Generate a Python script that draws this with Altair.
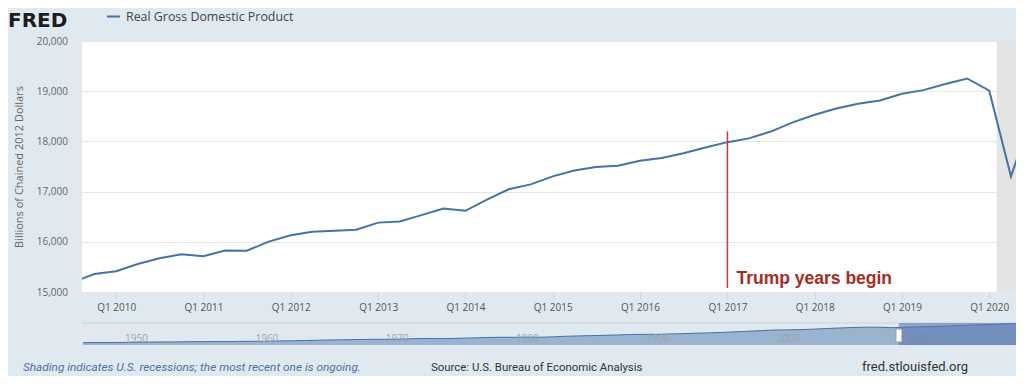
import altair as alt
import pandas as pd

# ---------------- data ----------------
quarters = [
    "2009-07-01", "2009-10-01",
    "2010-01-01", "2010-04-01", "2010-07-01", "2010-10-01",
    "2011-01-01", "2011-04-01", "2011-07-01", "2011-10-01",
    "2012-01-01", "2012-04-01", "2012-07-01", "2012-10-01",
    "2013-01-01", "2013-04-01", "2013-07-01", "2013-10-01",
    "2014-01-01", "2014-04-01", "2014-07-01", "2014-10-01",
    "2015-01-01", "2015-04-01", "2015-07-01", "2015-10-01",
    "2016-01-01", "2016-04-01", "2016-07-01", "2016-10-01",
    "2017-01-01", "2017-04-01", "2017-07-01", "2017-10-01",
    "2018-01-01", "2018-04-01", "2018-07-01", "2018-10-01",
    "2019-01-01", "2019-04-01", "2019-07-01", "2019-10-01",
    "2020-01-01", "2020-04-01", "2020-07-01",
]
gdp = [
    15190, 15357,
    15415, 15558, 15672, 15751,
    15713, 15825, 15821, 16004,
    16130, 16198, 16221, 16240,
    16382, 16403, 16531, 16664,
    16617, 16840, 17047, 17144,
    17303, 17421, 17490, 17514,
    17613, 17669, 17765, 17877,
    17985, 18060, 18196, 18379,
    18530, 18654, 18752, 18814,
    18950, 19021, 19142, 19254,
    19011, 17303, 18584,
]
x_tick_dates = ["2010", "2011", "2012", "2013", "2014", "2015", "2016",
                "2017", "2018", "2019", "2020"]
y_ticks = [15000, 16000, 17000, 18000, 19000, 20000]

recession_start = ["2020-02-01"]
recession_end = ["2020-12-31"]

event_date = ["2017-01-01"]
event_top = [18200]
event_bottom = [15080]
event_text_y = [15160]
event_label = ["Trump years begin"]

nav_years = list(range(1947, 2021))
nav_gdp = [
    2033, 2118, 2106, 2290, 2475, 2577, 2695, 2680, 2871, 2932,
    2993, 2971, 3168, 3261, 3343, 3548, 3701, 3912, 4171, 4452,
    4570, 4795, 4943, 4952, 5118, 5387, 5698, 5668, 5658, 5963,
    6238, 6582, 6785, 6767, 6936, 6810, 7123, 7637, 7960, 8231,
    8512, 8863, 9192, 9366, 9356, 9685, 9951, 10352, 10630, 11031,
    11522, 12038, 12611, 13131, 13262, 13494, 13880, 14406, 14913, 15338,
    15626, 15605, 15209, 15599, 15841, 16197, 16495, 16912, 17432, 17731,
    18144, 18688, 19092, 18384,
]
nav_label_years = [1950, 1960, 1970, 1980, 1990, 2000, 2010]
nav_sel_start = [2009.6]
nav_sel_end = [2022.0]

# ---------------- styling ----------------
BG = "#e1e9f0"
BLUE = "#4572a7"
FONT = "Open Sans"
W, H = 934, 251
TOTAL_H = 368

main_df = pd.DataFrame({"date": quarters, "gdp": gdp})
rec_df = pd.DataFrame({"start": recession_start, "end": recession_end})
ev_df = pd.DataFrame({"date": event_date, "top": event_top, "bottom": event_bottom,
                      "ty": event_text_y, "label": event_label})
nav_df = pd.DataFrame({"year": nav_years, "gdp": nav_gdp})
navlab_df = pd.DataFrame({"year": nav_label_years, "lab": [str(y) for y in nav_label_years]})
sel_df = pd.DataFrame({"s": nav_sel_start, "e": nav_sel_end})

xscale = alt.Scale(type="utc", nice=False, domain=[
    alt.DateTime(year=2009, month=8, date=11, utc=True),
    alt.DateTime(year=2020, month=4, date=22, utc=True)])
yscale = alt.Scale(domain=[15000, 20000], nice=False, zero=False)

xaxis = alt.Axis(
    values=[alt.DateTime(year=int(y), month=1, date=1, utc=True) for y in x_tick_dates],
    labelExpr="'Q1 ' + utcFormat(datum.value, '%Y')",
    title=None, grid=False, domain=False,
    tickColor="#ccd6eb", tickSize=7, labelPadding=3, labelOverlap=False,
    labelFont=FONT, labelFontSize=10, labelColor="#555555", labelFlush=False,
)
yaxis = alt.Axis(
    values=y_ticks, format=",.0f", title="Billions of Chained 2012 Dollars",
    domain=False, ticks=False, grid=True, gridColor="#e6e6e6", gridWidth=1,
    labelPadding=14.5, labelFont=FONT, labelFontSize=10, labelColor="#666666",
    titleFont=FONT, titleFontSize=11, titleFontWeight="normal", titleColor="#666666",
    titleX=-60, titleY=H / 2, titleAlign="center", titleBaseline="alphabetic",
    titleAngle=270,
)

rec = alt.Chart(rec_df).mark_rect(color="#e4e4e4", clip=True).encode(
    x=alt.X("start:T", scale=xscale, axis=xaxis),
    x2="end:T",
    y=alt.value(0), y2=alt.value(H),
)
line = alt.Chart(main_df).mark_line(color=BLUE, strokeWidth=2, clip=True).encode(
    x=alt.X("date:T", scale=xscale, axis=xaxis),
    y=alt.Y("gdp:Q", scale=yscale, axis=yaxis),
)
rule = alt.Chart(ev_df).mark_rule(color="#d2372b", strokeWidth=1.5).encode(
    x=alt.X("date:T", scale=xscale, axis=xaxis),
    y=alt.Y("top:Q", scale=yscale, axis=yaxis),
    y2="bottom:Q",
)
ev_text = alt.Chart(ev_df).mark_text(
    align="left", baseline="alphabetic", dx=9, fontSize=17.5, fontWeight="bold",
    font="Liberation Sans", color="#a82b1f",
).encode(
    x=alt.X("date:T", scale=xscale, axis=xaxis),
    y=alt.Y("ty:Q", scale=yscale, axis=yaxis),
    text="label:N",
)

one = pd.DataFrame({"a": [0]})


def label(txt, x, y, **kw):
    return alt.Chart(pd.DataFrame({"t": [txt]})).mark_text(
        align="left", baseline="alphabetic", **kw
    ).encode(x=alt.value(x), y=alt.value(y), text="t:N")


fred = label("FRED", -74, -14.4, font="DejaVu Sans", fontSize=20, fontWeight="bold",
             color="#1c1c1c")
leg_line = alt.Chart(one).mark_rule(color=BLUE, strokeWidth=2).encode(
    x=alt.value(25), x2=alt.value(38), y=alt.value(-24.5))
leg_text = label("Real Gross Domestic Product", 44, -20, font=FONT, fontSize=12.4,
                 color="#444444")
FOOT_FONT = "Roboto"
foot1 = label("Shading indicates U.S. recessions; the most recent one is ongoing.",
              -59, 330, font=FOOT_FONT, fontSize=11.8, fontStyle="italic",
              color="#4a6fa5")
foot2 = label("Source: U.S. Bureau of Economic Analysis", 349, 330,
              font=FOOT_FONT, fontSize=11.4, color="#333333")
foot3 = label("fred.stlouisfed.org", 780, 330,
              font=FOOT_FONT, fontSize=13, color="#333333")

main = alt.layer(rec, line, rule, ev_text, fred, leg_line, leg_text, foot1, foot2, foot3)

# ---------------- navigator ----------------
nav_x = alt.Scale(domain=[1947, 2020.5], range=[1, 959], nice=False, zero=False)
nav_y = alt.Scale(domain=[0, 19300], range=[304, 282], nice=False, zero=False)

sep = alt.Chart(one).mark_rule(color="#c9d2dc", strokeWidth=1).encode(
    x=alt.value(0), x2=alt.value(W), y=alt.value(282))
nav_area = alt.Chart(nav_df).mark_area(
    color=BLUE, opacity=0.45, line={"color": BLUE, "strokeWidth": 1}
).encode(
    x=alt.X("year:Q", scale=nav_x, axis=None),
    y=alt.Y("gdp:Q", scale=nav_y, axis=None),
)
nav_labels = alt.Chart(navlab_df).mark_text(
    align="left", baseline="alphabetic", dx=3, font=FONT, fontSize=10, color="#9aa3ad"
).encode(
    x=alt.X("year:Q", scale=nav_x, axis=None),
    y=alt.value(301),
    text="lab:N",
)
mask = alt.Chart(sel_df).mark_rect(color="#5a77b0", opacity=0.6).encode(
    x=alt.X("s:Q", scale=nav_x, axis=None),
    x2="e:Q",
    y=alt.value(282), y2=alt.value(304),
)
handle = alt.Chart(sel_df).mark_rect(
    fill="white", stroke="#999999", strokeWidth=1, xOffset=-3, x2Offset=3
).encode(
    x=alt.X("s:Q", scale=nav_x, axis=None),
    x2=alt.X2("s:Q"),
    y=alt.value(288), y2=alt.value(301),
)

nav = alt.layer(sep, nav_area, nav_labels, mask, handle)

chart = alt.layer(main, nav).resolve_scale(
    x="independent", y="independent"
).properties(
    width=W, height=H,
    padding={"left": 74, "top": 33, "right": 0, "bottom": TOTAL_H - 33 - H},
    autosize=alt.AutoSizeParams(type="none"),
    background=BG,
).configure_view(fill="white", strokeWidth=0)

chart.save("out.html", embed_options={"renderer": "svg", "actions": False})
